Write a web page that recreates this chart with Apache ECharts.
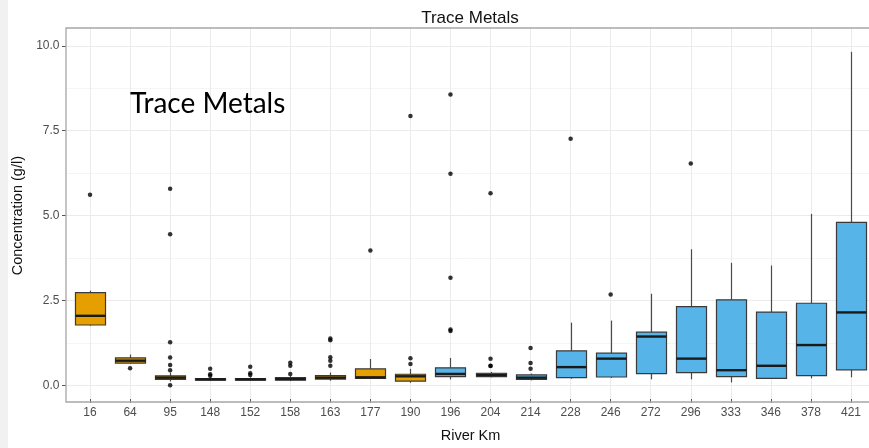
<!DOCTYPE html>
<html><head><meta charset="utf-8">
<script src="https://cdn.jsdelivr.net/npm/echarts@6/dist/echarts.min.js"></script>
<style>html,body{margin:0;padding:0;background:#fff;overflow:hidden;width:869px;height:448px}#c{width:880px;height:448px}</style>
</head><body><div id="c"></div>
<script>
// ---- data ----
const categories  = ['16','64','95','148','152','158','163','177','190','196','204','214','228','246','272','296','333','346','378','421'];
const whiskerLow  = [1.76,0.65,0.12,0.14,0.14,0.13,0.14,0.20,0.08,0.18,0.24,0.15,0.20,0.22,0.18,0.18,0.09,0.19,0.21,0.24];
const q1          = [1.78,0.66,0.18,0.16,0.16,0.16,0.19,0.21,0.13,0.26,0.26,0.18,0.23,0.25,0.35,0.38,0.26,0.21,0.29,0.46];
const median      = [2.05,0.73,0.23,0.18,0.18,0.19,0.23,0.24,0.27,0.34,0.31,0.23,0.54,0.79,1.44,0.79,0.45,0.58,1.19,2.15];
const q3          = [2.73,0.81,0.28,0.20,0.20,0.23,0.29,0.49,0.33,0.52,0.36,0.31,1.02,0.95,1.57,2.32,2.52,2.16,2.42,4.80];
const whiskerHigh = [2.79,0.91,0.38,0.24,0.24,0.28,0.38,0.78,0.49,0.81,0.40,0.35,1.85,1.91,2.70,4.01,3.61,3.53,5.05,9.82];
const outliers = [
  [5.61],
  [0.51],
  [0.01,0.45,0.60,0.82,1.27,4.45,5.79],
  [0.29,0.33,0.49],
  [0.31,0.36,0.55],
  [0.34,0.58,0.67],
  [0.58,0.73,0.83,1.33,1.38],
  [3.97],
  [0.63,0.80,7.93],
  [1.60,1.65,3.17,6.23,8.56],
  [0.57,0.58,0.79,5.66],
  [0.49,0.66,1.10],
  [7.26],
  [2.68],
  [],
  [6.53],
  [],
  [],
  [],
  []
];
const yTickStep = 2.5;
const yTickMax = 10;

// ---- styles ----
const ORANGE = '#E69F00', BLUE = '#56B4E9';
const fills = categories.map((c, i) => i < 9 ? ORANGE : BLUE);
const FONT = '"Liberation Sans", Arial, sans-serif';

const boxData = categories.map((c, i) => [i, whiskerLow[i], q1[i], median[i], q3[i], whiskerHigh[i]]);
const outlierData = [];
outliers.forEach((arr, i) => arr.forEach(v => outlierData.push([i, v])));

function renderBox(params, api) {
  const i = api.value(0);
  const lo = api.coord([i, api.value(1)]);
  const b1 = api.coord([i, api.value(2)]);
  const md = api.coord([i, api.value(3)]);
  const b3 = api.coord([i, api.value(4)]);
  const hi = api.coord([i, api.value(5)]);
  const w = api.size([0.75, 0])[0];
  const x = Math.round(lo[0]) + 0.5;
  return {type: 'group', children: [
    {type: 'line', shape: {x1: x, y1: hi[1], x2: x, y2: b3[1]}, style: {stroke: '#4a4a4a', lineWidth: 1.2}},
    {type: 'line', shape: {x1: x, y1: b1[1], x2: x, y2: lo[1]}, style: {stroke: '#4a4a4a', lineWidth: 1.2}},
    {type: 'rect', shape: {x: x - w / 2, y: b3[1], width: w, height: b1[1] - b3[1]}, style: {fill: fills[params.dataIndex], stroke: '#3a3a3a', lineWidth: 1.2}},
    {type: 'line', shape: {x1: x - w / 2, y1: md[1], x2: x + w / 2, y2: md[1]}, style: {stroke: '#1a1a1a', lineWidth: 2.4}}
  ]};
}

// the chart canvas is a little wider than the window: the plot panel runs past the picture's right edge
const chart = echarts.init(document.getElementById('c'));
chart.setOption({
  animation: false,
  textStyle: {fontFamily: FONT},
  grid: [
    // panel frame + data
    {left: 66, right: 5, top: 28, bottom: 46, show: true, borderColor: '#a6a6a6', borderWidth: 1.3, backgroundColor: 'transparent', z: 3},
    // y ticks / horizontal grid (0..10)
    {left: 66, right: 5, top: 45.8, bottom: 62.5},
    // x categories / vertical grid
    {left: 70, right: 9, top: 28, bottom: 46}
  ],
  xAxis: [
    {gridIndex: 0, type: 'value', min: -0.6, max: categories.length - 0.4, show: false},
    {gridIndex: 1, type: 'value', show: false},
    {gridIndex: 2, type: 'category', data: categories, boundaryGap: true,
     axisLine: {show: false},
     axisTick: {show: true, alignWithLabel: true, length: 4, lineStyle: {color: '#555', width: 1}},
     axisLabel: {margin: 8, fontSize: 12, color: '#4d4d4d', fontFamily: FONT, interval: 0},
     splitLine: {show: true, alignWithLabel: true, lineStyle: {color: '#ebebeb', width: 1}},
     name: 'River Km', nameLocation: 'middle', nameGap: 29,
     nameTextStyle: {fontSize: 14.5, color: '#111', fontFamily: FONT}}
  ],
  yAxis: [
    {gridIndex: 0, type: 'value', min: -0.486, max: 10.52, show: false},
    {gridIndex: 1, type: 'value', min: 0, max: yTickMax, interval: yTickStep,
     axisLine: {show: false},
     axisTick: {show: true, length: 4, lineStyle: {color: '#555', width: 1}},
     axisLabel: {margin: 6.5, fontSize: 12, color: '#4d4d4d', fontFamily: FONT, formatter: v => v.toFixed(1)},
     splitLine: {show: true, lineStyle: {color: '#ebebeb', width: 1}},
     minorTick: {show: false, splitNumber: 2},
     minorSplitLine: {show: true, lineStyle: {color: '#f5f5f5', width: 1}},
     name: 'Concentration (g/l)', nameLocation: 'middle', nameGap: 39, nameRotate: 90,
     nameTextStyle: {fontSize: 14.5, color: '#111', fontFamily: FONT}},
    {gridIndex: 2, type: 'value', show: false}
  ],
  graphic: [
    {type: 'rect', left: 0, top: 0, shape: {width: 8, height: 448}, style: {fill: '#f1f1f1'}, z: -10, silent: true},
    {type: 'text', x: 470, y: 18, style: {text: 'Trace Metals', font: '17px ' + FONT, fill: '#111', align: 'center', verticalAlign: 'middle'}},
    {type: 'text', x: 130, y: 104, style: {text: 'Trace Metals', font: '28px Lato, "Open Sans", sans-serif', fill: '#000', align: 'left', verticalAlign: 'middle'}, z: 10}
  ],
  series: [
    {type: 'custom', name: 'box', xAxisIndex: 0, yAxisIndex: 0, renderItem: renderBox,
     encode: {x: 0, y: [1, 2, 3, 4, 5]}, data: boxData, z: 4},
    {type: 'scatter', name: 'outliers', xAxisIndex: 0, yAxisIndex: 0, data: outlierData,
     symbol: 'circle', symbolSize: 4.5, itemStyle: {color: '#000'}, z: 5}
  ]
});
</script>
</body></html>
